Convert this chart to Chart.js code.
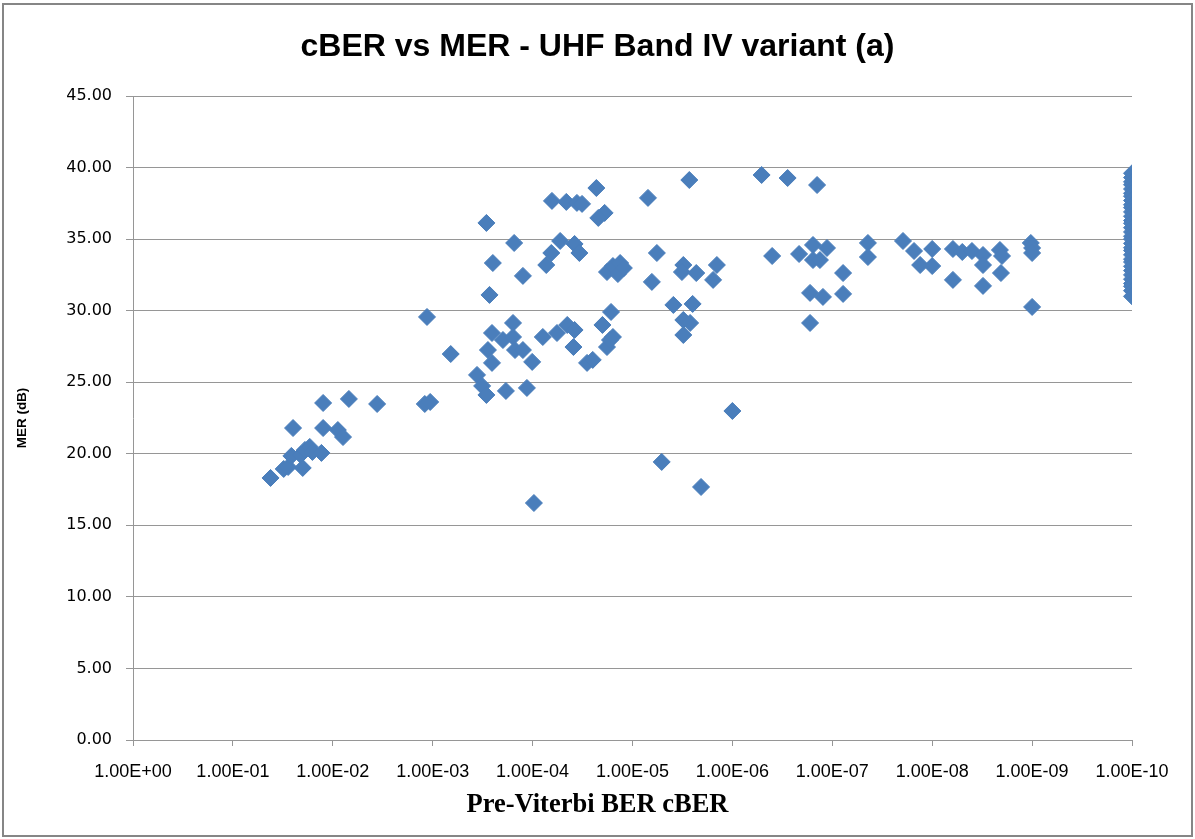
<!DOCTYPE html>
<html>
<head>
<meta charset="utf-8">
<title>cBER vs MER - UHF Band IV variant (a)</title>
<script src="https://cdn.jsdelivr.net/npm/chart.js@4.4.1/dist/chart.umd.min.js"></script>
<style>
  html, body { margin: 0; padding: 0; background: #fff; }
  canvas { display: block; }
</style>
</head>
<body>
<canvas id="cber-mer-chart" width="1195" height="839"></canvas>
<script>
const cberValues = [
  4.2e-2, 3.1e-2, 2.8e-2, 2.5e-2, 2.6e-2, 2.1e-2, 1.9e-2, 1.7e-2, 2.0e-2, 1.6e-2,
  1.3e-2, 1.25e-2, 1.25e-2, 8.9e-3, 7.9e-3, 6.9e-3, 3.6e-3, 1.2e-3, 1.06e-3, 1.14e-3,
  6.6e-4, 3.6e-4, 3.2e-4, 2.9e-4, 1.85e-4, 1.14e-4, 2.9e-4, 1.53e-4, 2.5e-4, 1.25e-4,
  2.7e-4, 6.4e-5, 4.6e-5, 3.6e-5, 3.2e-5, 2.3e-5, 1.9e-5, 2.2e-5, 7.0e-6, 2.7e-6,
  5.3e-5, 3.8e-5, 3.4e-5, 6.5e-5, 7.3e-5, 1.8e-5, 1.57e-5, 1.33e-5, 1.4e-5, 1.22e-5,
  5.7e-6, 6.4e-6, 3.1e-6, 3.2e-6, 2.3e-6, 1.43e-6, 1.56e-6, 3.9e-6, 2.5e-6, 3.1e-6,
  2.65e-6, 3.1e-6, 1.0e-6, 1.64e-5, 2.0e-5, 1.57e-5, 1.8e-5, 1.68e-5,
  2.55e-4, 1.57e-4, 1.98e-4, 2.8e-4, 2.55e-4, 1.57e-4, 1.5e-4, 1.25e-4, 1.01e-4, 7.9e-5,
  5.7e-5, 4.5e-5, 3.8e-5, 3.9e-5, 2.85e-5, 2.5e-5, 9.7e-5, 5.1e-6, 2.06e-6,
  5.1e-7, 2.8e-7, 1.42e-7, 4.0e-7, 2.15e-7, 1.56e-7, 1.13e-7, 1.56e-7, 1.33e-7, 7.8e-8,
  1.67e-7, 1.24e-7, 7.8e-8, 1.67e-7, 4.4e-8, 4.4e-8, 1.96e-8, 1.52e-8, 1.0e-8, 1.32e-8,
  1.0e-8, 6.2e-9, 5.0e-9, 4.0e-9, 3.1e-9, 3.1e-9, 2.1e-9, 2.0e-9, 2.05e-9, 6.2e-9,
  3.1e-9, 1.03e-9, 1.0e-9, 1.0e-9, 1.0e-9,
  1e-10, 1e-10, 1e-10, 1e-10, 1e-10, 1e-10, 1e-10, 1e-10, 1e-10, 1e-10,
  1e-10, 1e-10, 1e-10, 1e-10, 1e-10, 1e-10, 1e-10, 1e-10, 1e-10, 1e-10,
  1e-10, 1e-10, 1e-10, 1e-10, 1e-10, 1e-10, 1e-10, 1e-10, 1e-10, 1e-10,
  1e-10, 1e-10
];

// MER (dB) of the same measurements
const merValues = [
  18.31, 18.94, 19.08, 21.80, 19.85, 19.92, 20.27, 20.48, 19.01, 20.13,
  20.06, 23.55, 21.80, 21.66, 21.17, 23.83, 23.48, 23.48, 23.62, 29.56,
  26.97, 25.51, 24.74, 24.11, 24.39, 24.60, 36.13, 34.73, 33.33, 32.43,
  31.10, 37.67, 37.60, 37.53, 37.46, 38.57, 36.83, 36.48, 37.88, 39.13,
  34.87, 34.66, 34.03, 34.03, 33.19, 32.70, 33.12, 33.33, 32.56, 32.98,
  34.03, 32.01, 33.19, 32.70, 32.63, 33.19, 32.15, 30.40, 30.47, 29.35,
  29.14, 28.30, 22.99, 29.91, 29.00, 28.16, 27.46, 27.95,
  28.44, 29.14, 27.95, 27.25, 26.35, 28.16, 27.25, 27.25, 26.42, 28.16,
  28.44, 29.00, 28.65, 27.46, 26.35, 26.56, 16.56, 19.43, 17.68,
  39.48, 39.27, 38.78, 33.82, 33.96, 34.59, 34.38, 33.54, 33.54, 32.63,
  31.24, 30.96, 31.17, 29.14, 34.73, 33.75, 34.87, 34.17, 34.31, 33.19,
  33.12, 34.31, 34.10, 34.17, 33.89, 33.19, 34.24, 33.82, 32.63, 32.15,
  31.73, 34.73, 34.38, 34.03, 30.26,
  39.6, 39.3, 39.0, 38.8, 38.5, 38.2, 38.0, 37.7, 37.4, 37.2,
  36.9, 36.6, 36.3, 36.1, 35.8, 35.5, 35.2, 35.0, 34.7, 34.4,
  34.2, 33.9, 33.6, 33.4, 33.1, 32.8, 32.5, 32.2, 31.9, 31.7,
  31.4, 31.0
];

const xTickValues = [1, 1e-1, 1e-2, 1e-3, 1e-4, 1e-5, 1e-6, 1e-7, 1e-8, 1e-9, 1e-10];
const yMin = 0;
const yMax = 45;
const yStep = 5;

const points = cberValues.map((v, i) => ({ x: v, y: merValues[i] }));

// excel style scientific label, e.g. 1.00E-04
const formatBer = (v) => {
  const e = Math.round(Math.log10(v));
  return '1.00E' + (e < 0 ? '-' : '+') + String(Math.abs(e)).padStart(2, '0');
};

const frame = {
  id: 'frame',
  beforeDraw(chart) {
    const ctx = chart.ctx;
    ctx.save();
    ctx.fillStyle = '#ffffff';
    ctx.fillRect(0, 0, chart.width, chart.height);
    ctx.restore();
  },
  afterDraw(chart) {
    const ctx = chart.ctx;
    ctx.save();
    ctx.strokeStyle = '#868686';
    ctx.lineWidth = 2;
    ctx.strokeRect(3, 4, chart.width - 6, chart.height - 7);
    ctx.restore();
  }
};

const gridGrey = '#969696';

const ctx = document.getElementById('cber-mer-chart');

new Chart(ctx, {
  type: 'scatter',
  data: {
    datasets: [
      {
        label: 'MER',
        data: points,
        pointStyle: 'rectRot',
        pointRadius: 8.5,
        pointHoverRadius: 8.5,
        borderWidth: 1,
        borderColor: '#4A7EBB',
        backgroundColor: '#4A7EBB',
      },
    ],
  },
  options: {
    responsive: false,
    animation: false,
    devicePixelRatio: 1,
    layout: {
      padding: 0
    },
    plugins: {
      legend: { display: false },
      tooltip: { enabled: false },
      title: {
        display: true,
        text: 'cBER vs MER - UHF Band IV variant (a)',
        color: '#000000',
        font: { family: '"Liberation Sans", Arial, sans-serif', size: 32, weight: 'bold', lineHeight: 1.2 },
        padding: { top: 28, bottom: 29.6 }
      },
      // x axis title, centred on the whole chart like the original
      subtitle: {
        display: true,
        position: 'bottom',
        text: 'Pre-Viterbi BER cBER',
        color: '#000000',
        font: { family: '"Liberation Serif", "Times New Roman", serif', size: 26.5, weight: 'bold', lineHeight: 1.2 },
        padding: { top: 0, bottom: 18 }
      }
    },
    scales: {
      x: {
        type: 'logarithmic',
        reverse: true,
        min: 1e-10,
        max: 1,
        afterBuildTicks: (scale) => {
          scale.ticks = xTickValues.map(v => ({ value: v }));
        },
        afterFit: (scale) => {
          scale.height = 49.2;
        },
        grid: {
          drawOnChartArea: false,
          drawTicks: true,
          tickLength: 6,
          color: gridGrey,
        },
        border: { display: true, color: gridGrey, width: 1 },
        ticks: {
          autoSkip: false,
          maxRotation: 0,
          padding: 15,
          color: '#000000',
          font: { family: '"Liberation Sans", Arial, sans-serif', size: 18 },
          callback: (value) => formatBer(value),
        }
      },
      y: {
        min: yMin,
        max: yMax,
        afterFit: (scale) => {
          scale.width = 133;
        },
        grid: {
          color: gridGrey,
          tickLength: 7,
        },
        border: { display: true, color: gridGrey, width: 1 },
        ticks: {
          stepSize: yStep,
          padding: 14,
          color: '#000000',
          font: { family: '"DejaVu Sans", Verdana, sans-serif', size: 16 },
          callback: (value) => value.toFixed(2),
        },
        title: {
          display: true,
          text: 'MER (dB)',
          color: '#000000',
          font: { family: '"Liberation Sans", Arial, sans-serif', size: 13.5, weight: 'bold', lineHeight: 1.2 },
          padding: { top: 14, bottom: 0 }
        }
      },
      // empty right-hand strip so the plot ends where the original does
      y2: {
        position: 'right',
        display: true,
        afterFit: (scale) => {
          scale.width = 63;
        },
        grid: { display: false },
        border: { display: false },
        ticks: { display: false }
      }
    }
  },
  plugins: [frame]
});
</script>
</body>
</html>
